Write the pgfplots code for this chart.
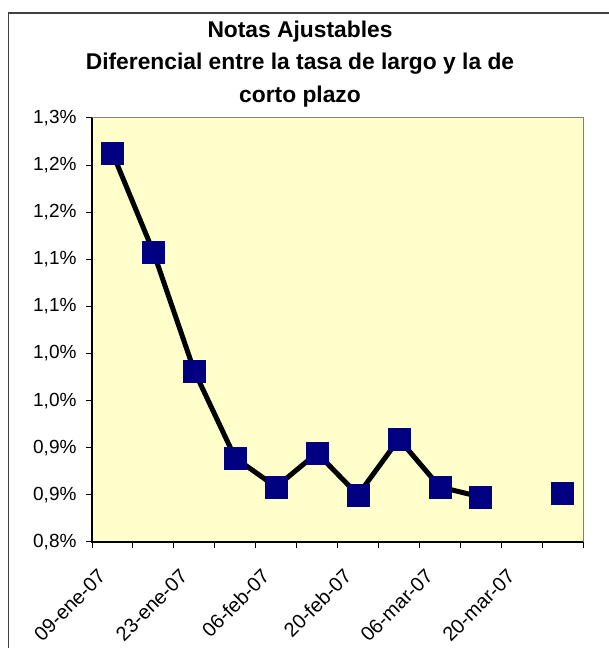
\documentclass[border=0pt]{standalone}
\usepackage{pgfplots}
\pgfplotsset{compat=1.18}
\usepackage{fontspec}
\setmainfont{Liberation Sans}
\definecolor{bgyellow}{HTML}{FFFFCC}
\definecolor{navymark}{HTML}{000080}
\definecolor{framegray}{HTML}{404040}
\pgfplotstableread{
x y
0.5 1.2129
1.5 1.1078
2.5 0.9815
3.5 0.8892
4.5 0.8584
5.5 0.8945
6.5 0.8499
7.5 0.9093
8.5 0.8584
9.5 0.8478
10.5 nan
11.5 0.8520
}\datatable
\begin{document}
\begin{tikzpicture}[x=1bp,y=1bp]
\useasboundingbox (0,0) rectangle (609,648);
\draw[line width=1.3bp, framegray] (8.5,-20) -- (8.5,635) -- (630,635);
\node[font=\fontsize{22.8bp}{26bp}\selectfont\bfseries] at (300,616) {Notas Ajustables};
\node[font=\fontsize{22.8bp}{26bp}\selectfont\bfseries] at (300,584) {Diferencial entre la tasa de largo y la de};
\node[font=\fontsize{22.8bp}{26bp}\selectfont\bfseries] at (300,551) {corto plazo};
\begin{axis}[
  at={(92bp,106bp)}, anchor=south west,
  scale only axis, width=491bp, height=424bp,
  xmin=0, xmax=12, ymin=0.8, ymax=1.25,
  axis background/.style={fill=bgyellow},
  axis line style={draw=gray, line width=1bp},
  xtick={0,1,2,3,4,5,6,7,8,9,10,11,12},
  xticklabels={09-ene-07,,23-ene-07,,06-feb-07,,20-feb-07,,06-mar-07,,20-mar-07,,},
  ytick={0.8,0.85,0.9,0.95,1.0,1.05,1.1,1.15,1.2,1.25},
  yticklabels={{0,8\%},{0,9\%},{0,9\%},{1,0\%},{1,0\%},{1,1\%},{1,1\%},{1,2\%},{1,2\%},{1,3\%}},
  xtick pos=bottom, ytick pos=left,
  tick align=outside, major tick length=6bp,
  tick style={black, line width=1bp},
  yticklabel style={font=\fontsize{19bp}{22bp}\selectfont, xshift=-6bp},
  xticklabel style={font=\fontsize{20bp}{23bp}\selectfont, rotate=45, anchor=north east, xshift=-7bp, yshift=-14bp},
  unbounded coords=jump,
  clip=false,
]
\addplot[black, line width=5bp, mark=square*, mark size=11bp,
  mark options={fill=navymark, draw=navymark, line width=0.5bp}] table[x=x,y=y] {\datatable};
\draw[black, line width=1.5bp] (rel axis cs:0,1) -- (rel axis cs:0,0) -- (rel axis cs:1,0);
\end{axis}
\end{tikzpicture}
\end{document}
